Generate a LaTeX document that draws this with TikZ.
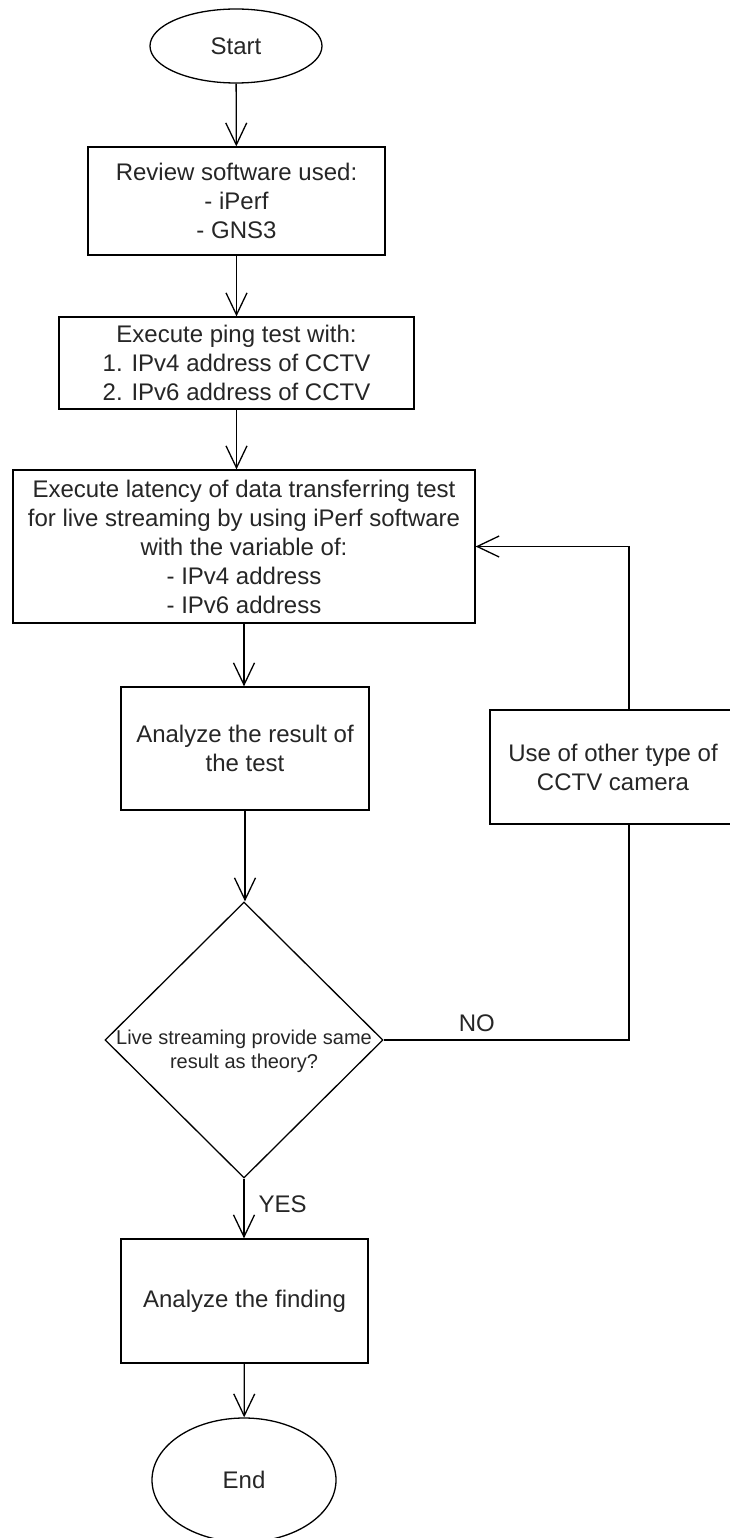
\documentclass[tikz,border=0pt]{standalone}
\usepackage{fontspec}
\setmainfont{Liberation Sans}
\usetikzlibrary{shapes.geometric, arrows.meta}

\begin{document}
\begin{tikzpicture}[
        x=1pt, y=-1pt,
        every node/.style={font=\fontsize{24}{29}\selectfont, text=black!85},
        box/.style={rectangle, draw, fill=white, line width=1.3pt, align=center, inner sep=0pt},
        term/.style={ellipse, draw, line width=1.3pt, inner sep=0pt},
        decision/.style={diamond, draw, line width=1.3pt, inner sep=0pt, minimum width=278pt, minimum height=276pt},
        qtext/.style={align=center, inner sep=0pt, font=\fontsize{20}{24}\selectfont},
        line/.style={line width=1.3pt},
        arrow/.style={-{Straight Barb[length=22pt, width=21pt]}, line width=1.3pt}
    ]
    \useasboundingbox (0,0) rectangle (729,1538);

    % Main column
    \node[term, minimum width=172pt, minimum height=74pt] (start) at (236,46) {Start};

    \node[box, minimum width=297pt, minimum height=108pt] (review) at (236.5,201) {Review software used:\\- iPerf\\- GNS3};
    \node[box, minimum width=355pt, minimum height=92pt] (ping) at (236.5,363) {Execute ping test with:\\1. IPv4 address of CCTV\\2. IPv6 address of CCTV};
    \node[box, minimum width=462pt, minimum height=153pt] (latency) at (244,546.5) {Execute latency of data transferring test\\for live streaming by using iPerf software\\with the variable of:\\- IPv4 address\\- IPv6 address};
    \node[box, minimum width=248pt, minimum height=123pt] (analyze) at (245,748.5) {Analyze the result of\\the test};

    % Decision
    \node[decision] (decide) at (244,1040) {};
    \node[qtext] (question) at (244,1051) {Live streaming provide same\\result as theory?};

    \node[box, minimum width=247pt, minimum height=124pt] (finding) at (244.5,1301) {Analyze the finding};
    \node[term, minimum width=184pt, minimum height=124pt] (end) at (244,1480) {End};

    % Loop back (Right)
    \node[box, minimum width=246pt, minimum height=114pt] (other) at (613,767) {Use of other type of\\CCTV camera};
    \coordinate (nocorner) at (629,1040);

    % Connecting arrows
    \draw[arrow] (start) -- (review);
    \draw[arrow] (review) -- (ping);
    \draw[arrow] (ping.south) -- (ping.south |- latency.north);
    \draw[arrow] (latency.south) -- (latency.south |- analyze.north);
    \draw[arrow] (analyze.south) -- (analyze.south |- decide.north);
    \draw[arrow] (decide.south) -- node[right=14pt, pos=0.42, inner sep=0pt] {YES} (decide.south |- finding.north);
    \draw[arrow] (finding) -- (end);

    \draw[line] (decide.east) -- node[above=8pt, pos=0.38, inner sep=0pt] {NO} (nocorner) -- (nocorner |- other.south);
    \draw[arrow] (other.north -| nocorner) |- (latency.east);

    \end{tikzpicture}
\end{document}
